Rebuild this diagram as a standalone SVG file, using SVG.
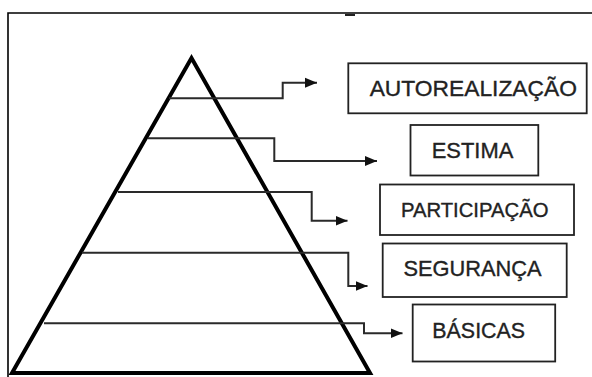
<svg xmlns="http://www.w3.org/2000/svg" width="592" height="377" viewBox="0 0 592 377">
  <style>
    .frame { fill: none; stroke: #000; stroke-width: 1.6; }
    .pyr { fill: none; stroke: #000; stroke-width: 4; stroke-linejoin: miter; }
    .conn { fill: none; stroke: #2a2a2a; stroke-width: 2; marker-end: url(#arrow); }
    .box { fill: #fff; stroke: #222; stroke-width: 1.8; }
    .lbl { font-family: "Liberation Sans", Arial, sans-serif; fill: #222; stroke: #222; stroke-width: 0.35; text-anchor: middle; }
  </style>
  <defs>
    <marker id="arrow" markerUnits="userSpaceOnUse" markerWidth="13" markerHeight="11" refX="12" refY="5.5" orient="auto">
      <path d="M0,0.5 L12,5.5 L0,10.5 z" fill="#111"/>
    </marker>
  </defs>
  <rect width="592" height="377" fill="#fff"/>
  <g id="frame">
    <path class="frame" d="M8,377 L8,13 L592,13"/>
    <line x1="345" y1="15" x2="355" y2="15" stroke="#222" stroke-width="2"/>
  </g>
  <g id="pyramid">
    <path class="pyr" d="M12,373 L191.5,58 L370,373 Z"/>
  </g>
  <g id="connectors">
    <polyline class="conn" points="169,98.3 282.7,98.3 282.7,82.7 317,82.7"/>
    <polyline class="conn" points="148,138.3 274.3,138.3 274.3,161 377,161"/>
    <polyline class="conn" points="118,192 311.7,192 311.7,220.7 347.5,220.7"/>
    <polyline class="conn" points="82,252.7 348.3,252.7 348.3,286 367.5,286"/>
    <polyline class="conn" points="44,323.3 364,323.3 364,333.3 402.5,333.3"/>
  </g>
  <g id="autorealizacao">
    <rect class="box" x="348.3" y="63.3" width="238.4" height="50"/>
    <text class="lbl" x="473.3" y="96" font-size="22.8">AUTOREALIZAÇÃO</text>
  </g>
  <g id="estima">
    <rect class="box" x="410.5" y="125" width="127.8" height="50.5"/>
    <text class="lbl" x="472.5" y="158.3" font-size="21.9">ESTIMA</text>
  </g>
  <g id="participacao">
    <rect class="box" x="380" y="184.5" width="194" height="50.5"/>
    <text class="lbl" x="474.7" y="217.3" font-size="20.3">PARTICIPAÇÃO</text>
  </g>
  <g id="seguranca">
    <rect class="box" x="382.7" y="243.5" width="184" height="53.5"/>
    <text class="lbl" x="472.5" y="276.3" font-size="21.8">SEGURANÇA</text>
  </g>
  <g id="basicas">
    <rect class="box" x="412.7" y="304.5" width="142.5" height="57"/>
    <text class="lbl" x="478.7" y="338.3" font-size="21.4">BÁSICAS</text>
  </g>
</svg>
